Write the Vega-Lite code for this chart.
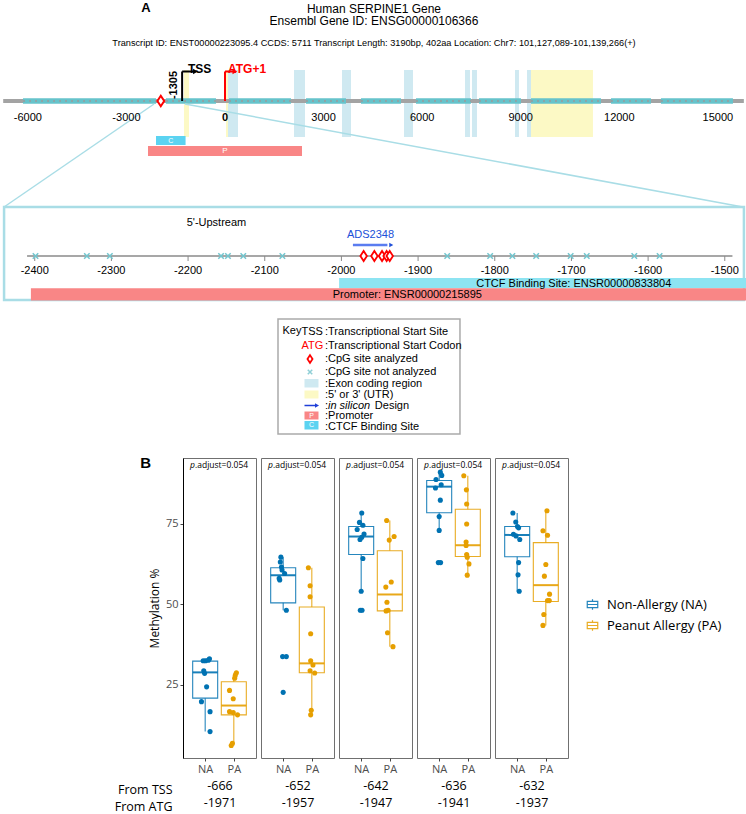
{
"$schema":"https://vega.github.io/schema/vega-lite/v6.json",
"padding":0,"spacing":17,"bounds":"flush","background":"white",
"config":{"view":{"stroke":"#707070"},"font":"Liberation Sans"},
"resolve":{"scale":{"color":"shared","fill":"shared","stroke":"shared"},"legend":{"color":"independent"}},
"datasets":{
"exons":[{"s":90,"e":395},{"s":2100,"e":2434},{"s":3560,"e":3834},{"s":5447,"e":5721},{"s":7303,"e":7455},{"s":7516,"e":7668},{"s":8825,"e":8946},{"s":9190,"e":9312}],
"utr":[{"s":-1248,"e":-1095},{"s":30,"e":91},{"s":9312,"e":11198}],
"cpgMain":[{"s":-6147,"e":-2100},{"s":-1795,"e":-274},{"s":122,"e":2008},{"s":2465,"e":3682},{"s":4138,"e":5356},{"s":5812,"e":7486},{"s":7729,"e":9007},{"s":9312,"e":11442},{"s":11746,"e":12963},{"s":13267,"e":15458}],
"tickMain":[{"v":-6000,"lab":"-6000"},{"v":-3000,"lab":"-3000"},{"v":0,"lab":"0"},{"v":3000,"lab":"3000"},{"v":6000,"lab":"6000"},{"v":9000,"lab":"9000"},{"v":12000,"lab":"12000"},{"v":15000,"lab":"15000"}],
"zoomCpg":[{"p":-2399},{"p":-2332},{"p":-2302},{"p":-2157},{"p":-2148},{"p":-2128},{"p":-2077},{"p":-1862},{"p":-1806},{"p":-1777},{"p":-1746},{"p":-1701},{"p":-1680},{"p":-1618},{"p":-1585}],
"zoomAn":[{"p":-1971},{"p":-1957},{"p":-1947},{"p":-1941},{"p":-1937}],
"zoomTicks":[{"v":-2400,"lab":"-2400"},{"v":-2300,"lab":"-2300"},{"v":-2200,"lab":"-2200"},{"v":-2100,"lab":"-2100"},{"v":-2000,"lab":"-2000"},{"v":-1900,"lab":"-1900"},{"v":-1800,"lab":"-1800"},{"v":-1700,"lab":"-1700"},{"v":-1600,"lab":"-1600"},{"v":-1500,"lab":"-1500"}],
"keyText":[{"t":":Transcriptional Start Site","r":33.1},{"t":":Transcriptional Start Codon","r":34.45},{"t":":CpG site analyzed","r":35.8},{"t":":CpG site not analyzed","r":37.1},{"t":":Exon coding region","r":38.25},{"t":":5' or 3' (UTR)","r":39.4},{"t":":","r":40.45},{"t":":Promoter","r":41.5},{"t":":CTCF Binding Site","r":42.55}],
"pts":[
{"site":"-666","grp":"NA","jx":0.93,"val":32.5},{"site":"-666","grp":"NA","jx":1.01,"val":32.5},{"site":"-666","grp":"NA","jx":1.11,"val":32.7},{"site":"-666","grp":"NA","jx":1.15,"val":33.1},{"site":"-666","grp":"NA","jx":0.95,"val":29.4},{"site":"-666","grp":"NA","jx":0.98,"val":28.6},{"site":"-666","grp":"NA","jx":1.05,"val":24.4},{"site":"-666","grp":"NA","jx":0.87,"val":19.8},{"site":"-666","grp":"NA","jx":1.17,"val":16.7},{"site":"-666","grp":"NA","jx":1.17,"val":10.5},
{"site":"-666","grp":"PA","jx":2.09,"val":28.8},{"site":"-666","grp":"PA","jx":2.05,"val":27.9},{"site":"-666","grp":"PA","jx":2.03,"val":27.1},{"site":"-666","grp":"PA","jx":1.85,"val":23.3},{"site":"-666","grp":"PA","jx":1.98,"val":20.7},{"site":"-666","grp":"PA","jx":1.85,"val":16.7},{"site":"-666","grp":"PA","jx":1.98,"val":16.4},{"site":"-666","grp":"PA","jx":2.13,"val":15.7},{"site":"-666","grp":"PA","jx":1.95,"val":6.9},{"site":"-666","grp":"PA","jx":1.91,"val":6.2},
{"site":"-652","grp":"NA","jx":0.92,"val":64.7},{"site":"-652","grp":"NA","jx":0.90,"val":63.2},{"site":"-652","grp":"NA","jx":0.94,"val":61.6},{"site":"-652","grp":"NA","jx":0.96,"val":60.7},{"site":"-652","grp":"NA","jx":1.05,"val":59.6},{"site":"-652","grp":"NA","jx":0.86,"val":58.1},{"site":"-652","grp":"NA","jx":0.88,"val":57.6},{"site":"-652","grp":"NA","jx":1.11,"val":48.2},{"site":"-652","grp":"NA","jx":0.98,"val":33.8},{"site":"-652","grp":"NA","jx":1.11,"val":33.8},{"site":"-652","grp":"NA","jx":1.0,"val":22.7},
{"site":"-652","grp":"PA","jx":1.88,"val":61.4},{"site":"-652","grp":"PA","jx":1.94,"val":55.8},{"site":"-652","grp":"PA","jx":1.94,"val":52.4},{"site":"-652","grp":"PA","jx":1.96,"val":40.9},{"site":"-652","grp":"PA","jx":1.96,"val":32.5},{"site":"-652","grp":"PA","jx":2.04,"val":31.2},{"site":"-652","grp":"PA","jx":1.94,"val":29.4},{"site":"-652","grp":"PA","jx":2.10,"val":28.7},{"site":"-652","grp":"PA","jx":1.98,"val":17.1},{"site":"-652","grp":"PA","jx":1.96,"val":15.7},
{"site":"-642","grp":"NA","jx":1.02,"val":78.4},{"site":"-642","grp":"NA","jx":0.94,"val":75.5},{"site":"-642","grp":"NA","jx":1.06,"val":74.6},{"site":"-642","grp":"NA","jx":0.86,"val":73.3},{"site":"-642","grp":"NA","jx":1.10,"val":71.9},{"site":"-642","grp":"NA","jx":1.02,"val":70.9},{"site":"-642","grp":"NA","jx":0.96,"val":70.2},{"site":"-642","grp":"NA","jx":1.06,"val":64.3},{"site":"-642","grp":"NA","jx":1.0,"val":54.1},{"site":"-642","grp":"NA","jx":0.97,"val":48.2},{"site":"-642","grp":"NA","jx":1.03,"val":48.2},
{"site":"-642","grp":"PA","jx":1.89,"val":76.1},{"site":"-642","grp":"PA","jx":2.15,"val":71.1},{"site":"-642","grp":"PA","jx":1.98,"val":70.0},{"site":"-642","grp":"PA","jx":2.05,"val":57.0},{"site":"-642","grp":"PA","jx":1.86,"val":55.4},{"site":"-642","grp":"PA","jx":1.90,"val":50.7},{"site":"-642","grp":"PA","jx":1.87,"val":48.0},{"site":"-642","grp":"PA","jx":1.94,"val":48.2},{"site":"-642","grp":"PA","jx":1.92,"val":41.2},{"site":"-642","grp":"PA","jx":2.11,"val":36.9},
{"site":"-636","grp":"NA","jx":1.04,"val":91.1},{"site":"-636","grp":"NA","jx":1.09,"val":90.1},{"site":"-636","grp":"NA","jx":0.89,"val":88.8},{"site":"-636","grp":"NA","jx":0.87,"val":86.2},{"site":"-636","grp":"NA","jx":1.07,"val":87.2},{"site":"-636","grp":"NA","jx":1.04,"val":82.4},{"site":"-636","grp":"NA","jx":1.0,"val":77.3},{"site":"-636","grp":"NA","jx":1.0,"val":73.0},{"site":"-636","grp":"NA","jx":0.97,"val":63.0},{"site":"-636","grp":"NA","jx":1.05,"val":63.0},
{"site":"-636","grp":"PA","jx":1.86,"val":90.0},{"site":"-636","grp":"PA","jx":1.95,"val":85.6},{"site":"-636","grp":"PA","jx":1.96,"val":81.2},{"site":"-636","grp":"PA","jx":1.96,"val":75.0},{"site":"-636","grp":"PA","jx":1.94,"val":69.4},{"site":"-636","grp":"PA","jx":1.94,"val":68.3},{"site":"-636","grp":"PA","jx":1.96,"val":65.5},{"site":"-636","grp":"PA","jx":1.98,"val":64.7},{"site":"-636","grp":"PA","jx":2.04,"val":62.6},{"site":"-636","grp":"PA","jx":1.98,"val":59.1},
{"site":"-632","grp":"NA","jx":0.85,"val":78.4},{"site":"-632","grp":"NA","jx":0.95,"val":75.6},{"site":"-632","grp":"NA","jx":1.01,"val":74.2},{"site":"-632","grp":"NA","jx":1.05,"val":73.8},{"site":"-632","grp":"NA","jx":0.87,"val":71.8},{"site":"-632","grp":"NA","jx":0.96,"val":71.3},{"site":"-632","grp":"NA","jx":1.09,"val":70.2},{"site":"-632","grp":"NA","jx":1.05,"val":63.0},{"site":"-632","grp":"NA","jx":1.03,"val":59.2},{"site":"-632","grp":"NA","jx":1.07,"val":54.1},
{"site":"-632","grp":"PA","jx":2.04,"val":79.1},{"site":"-632","grp":"PA","jx":1.90,"val":72.9},{"site":"-632","grp":"PA","jx":2.06,"val":71.5},{"site":"-632","grp":"PA","jx":2.0,"val":62.4},{"site":"-632","grp":"PA","jx":1.95,"val":58.8},{"site":"-632","grp":"PA","jx":2.13,"val":53.2},{"site":"-632","grp":"PA","jx":2.06,"val":51.2},{"site":"-632","grp":"PA","jx":2.12,"val":51.2},{"site":"-632","grp":"PA","jx":1.93,"val":46.9},{"site":"-632","grp":"PA","jx":1.90,"val":43.5}
],
"box":[
{"site":"-666","grp":"NA","gx":1,"q1":20.9,"med":28.9,"q3":32.4,"lo":10.5,"hi":33.1},
{"site":"-666","grp":"PA","gx":2,"q1":15.7,"med":18.6,"q3":26.0,"lo":6.2,"hi":28.8},
{"site":"-652","grp":"NA","gx":1,"q1":50.5,"med":59.1,"q3":61.4,"lo":48.2,"hi":64.7},
{"site":"-652","grp":"PA","gx":2,"q1":28.8,"med":31.7,"q3":49.2,"lo":15.7,"hi":61.4},
{"site":"-642","grp":"NA","gx":1,"q1":65.5,"med":71.1,"q3":74.2,"lo":54.1,"hi":78.4},
{"site":"-642","grp":"PA","gx":2,"q1":48.0,"med":53.1,"q3":66.7,"lo":36.9,"hi":76.1},
{"site":"-636","grp":"NA","gx":1,"q1":78.5,"med":86.6,"q3":88.5,"lo":73.0,"hi":91.1},
{"site":"-636","grp":"PA","gx":2,"q1":64.9,"med":68.4,"q3":79.6,"lo":59.1,"hi":90.0},
{"site":"-632","grp":"NA","gx":1,"q1":64.8,"med":71.6,"q3":74.2,"lo":54.1,"hi":78.4},
{"site":"-632","grp":"PA","gx":2,"q1":50.9,"med":56.0,"q3":69.2,"lo":43.5,"hi":79.1}
]
},
"vconcat":[
{
"width":746,"height":440,"view":{"stroke":"transparent"},
"resolve":{"scale":{"x":"independent"}},
"layer":[
{"layer":[
{"data":{"name":"exons"},"mark":{"type":"rect","fill":"#cfe9f1"},"encoding":{"x":{"field":"s","type":"quantitative","scale":{"domain":[-6817,15886],"nice":false,"zero":false},"axis":null},"x2":{"field":"e"},"y":{"datum":6.9,"type":"quantitative","scale":{"domain":[0,44],"reverse":true,"nice":false,"zero":false},"axis":null},"y2":{"datum":13.6}}},
{"data":{"name":"utr"},"mark":{"type":"rect","fill":"#fcf9c5"},"encoding":{"x":{"field":"s","type":"quantitative","axis":null},"x2":{"field":"e"},"y":{"datum":6.9,"type":"quantitative","axis":null},"y2":{"datum":13.6}}},
{"data":{"values":[{}]},"mark":{"type":"rule","stroke":"#a3a3a3","strokeWidth":4},"encoding":{"x":{"datum":-6750,"type":"quantitative","axis":null},"x2":{"datum":15790},"y":{"datum":10,"type":"quantitative","axis":null}}},
{"data":{"name":"cpgMain"},"mark":{"type":"rect","fill":"#66c3cb"},"encoding":{"x":{"field":"s","type":"quantitative","axis":null},"x2":{"field":"e"},"y":{"datum":9.72,"type":"quantitative","axis":null},"y2":{"datum":10.28}}},
{"data":{"name":"cpgMain"},"mark":{"type":"rule","stroke":"#9b9b9b","strokeWidth":1.5,"strokeDash":[2,4]},"encoding":{"x":{"field":"s","type":"quantitative","axis":null},"x2":{"field":"e"},"y":{"datum":10,"type":"quantitative","axis":null}}},
{"data":{"values":[{}]},"mark":{"type":"rule","stroke":"#a9dde6","strokeWidth":1.5},"encoding":{"x":{"datum":-2160,"type":"quantitative","axis":null},"x2":{"datum":-6725},"y":{"datum":10.3,"type":"quantitative","axis":null},"y2":{"datum":20.6}}},
{"data":{"values":[{}]},"mark":{"type":"rule","stroke":"#a9dde6","strokeWidth":1.5},"encoding":{"x":{"datum":-1217,"type":"quantitative","axis":null},"x2":{"datum":15763},"y":{"datum":10.3,"type":"quantitative","axis":null},"y2":{"datum":20.6}}},
{"data":{"values":[{}]},"mark":{"type":"point","shape":"M0,-1L0.65,0L0,1L-0.65,0Z","filled":true,"fill":"white","stroke":"#ff0000","strokeWidth":2,"size":110,"opacity":1},"encoding":{"x":{"datum":-1954,"type":"quantitative","axis":null},"y":{"datum":10,"type":"quantitative","axis":null}}},
{"data":{"values":[{}]},"mark":{"type":"rule","stroke":"black","strokeWidth":2},"encoding":{"x":{"datum":-1305,"type":"quantitative","axis":null},"y":{"datum":10,"type":"quantitative","axis":null},"y2":{"datum":7.05}}},
{"data":{"values":[{}]},"mark":{"type":"rule","stroke":"black","strokeWidth":2},"encoding":{"x":{"datum":-1305,"type":"quantitative","axis":null},"x2":{"datum":-900},"y":{"datum":7.05,"type":"quantitative","axis":null}}},
{"data":{"values":[{}]},"mark":{"type":"point","shape":"triangle-right","filled":true,"color":"black","size":30,"opacity":1},"encoding":{"x":{"datum":-900,"type":"quantitative","axis":null},"y":{"datum":7.05,"type":"quantitative","axis":null}}},
{"data":{"values":[{}]},"mark":{"type":"rule","stroke":"#ff0000","strokeWidth":2},"encoding":{"x":{"datum":0,"type":"quantitative","axis":null},"y":{"datum":10,"type":"quantitative","axis":null},"y2":{"datum":7.05}}},
{"data":{"values":[{}]},"mark":{"type":"rule","stroke":"#ff0000","strokeWidth":2},"encoding":{"x":{"datum":0,"type":"quantitative","axis":null},"x2":{"datum":300},"y":{"datum":7.05,"type":"quantitative","axis":null}}},
{"data":{"values":[{}]},"mark":{"type":"point","shape":"triangle-right","filled":true,"color":"#ff0000","size":30,"opacity":1},"encoding":{"x":{"datum":300,"type":"quantitative","axis":null},"y":{"datum":7.05,"type":"quantitative","axis":null}}},
{"data":{"values":[{}]},"mark":{"type":"text","text":"TSS","fontWeight":"bold","fontSize":12,"align":"left","baseline":"middle","color":"black"},"encoding":{"x":{"datum":-1126,"type":"quantitative","axis":null},"y":{"datum":6.75,"type":"quantitative","axis":null}}},
{"data":{"values":[{}]},"mark":{"type":"text","text":"ATG+1","fontWeight":"bold","fontSize":12,"align":"left","baseline":"middle","color":"#ff0000"},"encoding":{"x":{"datum":91,"type":"quantitative","axis":null},"y":{"datum":6.75,"type":"quantitative","axis":null}}},
{"data":{"values":[{}]},"mark":{"type":"text","text":"-1305","fontWeight":"bold","fontSize":11,"angle":270,"align":"center","baseline":"middle","color":"black"},"encoding":{"x":{"datum":-1560,"type":"quantitative","axis":null},"y":{"datum":8.4,"type":"quantitative","axis":null}}},
{"data":{"name":"tickMain"},"transform":[{"filter":"datum.v != 0"}],"mark":{"type":"text","fontSize":11,"align":"center","baseline":"middle","color":"black"},"encoding":{"x":{"field":"v","type":"quantitative","axis":null},"y":{"datum":11.7,"type":"quantitative","axis":null},"text":{"field":"lab"}}},
{"data":{"name":"tickMain"},"transform":[{"filter":"datum.v == 0"}],"mark":{"type":"text","fontSize":11,"fontWeight":"bold","align":"center","baseline":"middle","color":"black"},"encoding":{"x":{"field":"v","type":"quantitative","axis":null},"y":{"datum":11.7,"type":"quantitative","axis":null},"text":{"field":"lab"}}},
{"data":{"values":[{}]},"mark":{"type":"rect","fill":"#5bd3f1"},"encoding":{"x":{"datum":-2100,"type":"quantitative","axis":null},"x2":{"datum":-1200},"y":{"datum":13.5,"type":"quantitative","axis":null},"y2":{"datum":14.4}}},
{"data":{"values":[{}]},"mark":{"type":"text","text":"C","fontSize":7,"color":"white","align":"center","baseline":"middle"},"encoding":{"x":{"datum":-1650,"type":"quantitative","axis":null},"y":{"datum":13.95,"type":"quantitative","axis":null}}},
{"data":{"values":[{}]},"mark":{"type":"rect","fill":"#f98686"},"encoding":{"x":{"datum":-2343,"type":"quantitative","axis":null},"x2":{"datum":2343},"y":{"datum":14.5,"type":"quantitative","axis":null},"y2":{"datum":15.5}}},
{"data":{"values":[{}]},"mark":{"type":"text","text":"P","fontSize":8,"color":"white","align":"center","baseline":"middle"},"encoding":{"x":{"datum":0,"type":"quantitative","axis":null},"y":{"datum":15.0,"type":"quantitative","axis":null}}},
{"data":{"values":[{}]},"mark":{"type":"text","text":"A","fontSize":13,"fontWeight":"bold","align":"center","baseline":"middle","color":"black"},"encoding":{"x":{"datum":-2404,"type":"quantitative","axis":null},"y":{"datum":0.72,"type":"quantitative","axis":null}}},
{"data":{"values":[{}]},"mark":{"type":"text","text":"Human SERPINE1 Gene","fontSize":12,"align":"center","baseline":"middle","color":"black"},"encoding":{"x":{"datum":4534,"type":"quantitative","axis":null},"y":{"datum":0.75,"type":"quantitative","axis":null}}},
{"data":{"values":[{}]},"mark":{"type":"text","text":"Ensembl  Gene  ID: ENSG00000106366","fontSize":12,"align":"center","baseline":"middle","color":"black"},"encoding":{"x":{"datum":4534,"type":"quantitative","axis":null},"y":{"datum":2.0,"type":"quantitative","axis":null}}},
{"data":{"values":[{}]},"mark":{"type":"text","text":"Transcript ID: ENST00000223095.4   CCDS:  5711   Transcript Length:  3190bp,   402aa  Location:  Chr7:  101,127,089-101,139,266(+)","fontSize":9.2,"align":"center","baseline":"middle","color":"black"},"encoding":{"x":{"datum":4534,"type":"quantitative","axis":null},"y":{"datum":4.15,"type":"quantitative","axis":null}}},
{"data":{"values":[{}]},"mark":{"type":"rect","fill":"transparent","stroke":"#aaaaaa","strokeWidth":1.5},"encoding":{"x":{"datum":1613,"type":"quantitative","axis":null},"x2":{"datum":7151},"y":{"datum":31.8,"type":"quantitative","axis":null},"y2":{"datum":43.3}}},
{"data":{"values":[{}]},"mark":{"type":"text","text":"Key","fontSize":11,"align":"left","baseline":"middle","color":"black"},"encoding":{"x":{"datum":1750,"type":"quantitative","axis":null},"y":{"datum":33.0,"type":"quantitative","axis":null}}},
{"data":{"values":[{}]},"mark":{"type":"text","text":"TSS","fontSize":11,"align":"left","baseline":"middle","color":"black"},"encoding":{"x":{"datum":2328,"type":"quantitative","axis":null},"y":{"datum":33.1,"type":"quantitative","axis":null}}},
{"data":{"values":[{}]},"mark":{"type":"text","text":"ATG","fontSize":11,"align":"left","baseline":"middle","color":"#ff0000"},"encoding":{"x":{"datum":2328,"type":"quantitative","axis":null},"y":{"datum":34.45,"type":"quantitative","axis":null}}},
{"data":{"values":[{}]},"mark":{"type":"point","shape":"M0,-1L0.65,0L0,1L-0.65,0Z","filled":true,"fill":"white","stroke":"#ff0000","strokeWidth":1.8,"size":60,"opacity":1},"encoding":{"x":{"datum":2587,"type":"quantitative","axis":null},"y":{"datum":35.8,"type":"quantitative","axis":null}}},
{"data":{"values":[{}]},"mark":{"type":"point","shape":"M-1,-1L1,1M-1,1L1,-1","filled":false,"stroke":"#8fcfd6","strokeWidth":1.5,"size":20,"opacity":1},"encoding":{"x":{"datum":2587,"type":"quantitative","axis":null},"y":{"datum":37.1,"type":"quantitative","axis":null}}},
{"data":{"values":[{}]},"mark":{"type":"rect","fill":"#cfe9f1"},"encoding":{"x":{"datum":2419,"type":"quantitative","axis":null},"x2":{"datum":2845},"y":{"datum":37.8,"type":"quantitative","axis":null},"y2":{"datum":38.65}}},
{"data":{"values":[{}]},"mark":{"type":"rect","fill":"#fcf9c5"},"encoding":{"x":{"datum":2419,"type":"quantitative","axis":null},"x2":{"datum":2845},"y":{"datum":38.95,"type":"quantitative","axis":null},"y2":{"datum":39.75}}},
{"data":{"values":[{}]},"mark":{"type":"rule","stroke":"#1f3fd8","strokeWidth":1.5},"encoding":{"x":{"datum":2419,"type":"quantitative","axis":null},"x2":{"datum":2760},"y":{"datum":40.45,"type":"quantitative","axis":null}}},
{"data":{"values":[{}]},"mark":{"type":"point","shape":"triangle-right","filled":true,"color":"#1f3fd8","size":22,"opacity":1},"encoding":{"x":{"datum":2800,"type":"quantitative","axis":null},"y":{"datum":40.45,"type":"quantitative","axis":null}}},
{"data":{"values":[{}]},"mark":{"type":"rect","fill":"#f98686"},"encoding":{"x":{"datum":2419,"type":"quantitative","axis":null},"x2":{"datum":2845},"y":{"datum":41.05,"type":"quantitative","axis":null},"y2":{"datum":41.85}}},
{"data":{"values":[{}]},"mark":{"type":"text","text":"P","fontSize":7,"color":"white","align":"center","baseline":"middle"},"encoding":{"x":{"datum":2632,"type":"quantitative","axis":null},"y":{"datum":41.45,"type":"quantitative","axis":null}}},
{"data":{"values":[{}]},"mark":{"type":"rect","fill":"#5bd3f1"},"encoding":{"x":{"datum":2419,"type":"quantitative","axis":null},"x2":{"datum":2845},"y":{"datum":42.0,"type":"quantitative","axis":null},"y2":{"datum":42.85}}},
{"data":{"values":[{}]},"mark":{"type":"text","text":"C","fontSize":7,"color":"white","align":"center","baseline":"middle"},"encoding":{"x":{"datum":2632,"type":"quantitative","axis":null},"y":{"datum":42.42,"type":"quantitative","axis":null}}},
{"data":{"name":"keyText"},"mark":{"type":"text","fontSize":11,"align":"left","baseline":"middle","color":"black"},"encoding":{"x":{"datum":3043,"type":"quantitative","axis":null},"y":{"field":"r","type":"quantitative","axis":null},"text":{"field":"t"}}},
{"data":{"values":[{}]},"mark":{"type":"text","text":"in silicon","fontStyle":"italic","fontSize":11,"align":"left","baseline":"middle","color":"black"},"encoding":{"x":{"datum":3134,"type":"quantitative","axis":null},"y":{"datum":40.45,"type":"quantitative","axis":null}}},
{"data":{"values":[{}]},"mark":{"type":"text","text":"Design","fontSize":11,"align":"left","baseline":"middle","color":"black"},"encoding":{"x":{"datum":4560,"type":"quantitative","axis":null},"y":{"datum":40.45,"type":"quantitative","axis":null}}}
]},
{"layer":[
{"data":{"values":[{}]},"mark":{"type":"rect","fill":"transparent","stroke":"#a9dde6","strokeWidth":2.5},"encoding":{"x":{"datum":-2440,"type":"quantitative","scale":{"domain":[-2444,-1471],"nice":false,"zero":false},"axis":null},"x2":{"datum":-1475},"y":{"datum":20.6,"type":"quantitative","axis":null},"y2":{"datum":29.9}}},
{"data":{"values":[{}]},"mark":{"type":"rule","stroke":"#8a8a8a","strokeWidth":1.5},"encoding":{"x":{"datum":-2410,"type":"quantitative","axis":null},"x2":{"datum":-1490},"y":{"datum":25.5,"type":"quantitative","axis":null}}},
{"data":{"name":"zoomTicks"},"mark":{"type":"rule","stroke":"#8a8a8a","strokeWidth":1},"encoding":{"x":{"field":"v","type":"quantitative","axis":null},"y":{"datum":25.5,"type":"quantitative","axis":null},"y2":{"datum":26.0}}},
{"data":{"name":"zoomTicks"},"mark":{"type":"text","fontSize":11,"align":"center","baseline":"middle","color":"black"},"encoding":{"x":{"field":"v","type":"quantitative","axis":null},"y":{"datum":27.0,"type":"quantitative","axis":null},"text":{"field":"lab"}}},
{"data":{"name":"zoomCpg"},"mark":{"type":"point","shape":"M-1,-1L1,1M-1,1L1,-1","filled":false,"stroke":"#72c6cf","strokeWidth":1.5,"size":30,"opacity":1},"encoding":{"x":{"field":"p","type":"quantitative","axis":null},"y":{"datum":25.5,"type":"quantitative","axis":null}}},
{"data":{"name":"zoomAn"},"mark":{"type":"point","shape":"M0,-1L0.65,0L0,1L-0.65,0Z","filled":true,"fill":"white","stroke":"#ff0000","strokeWidth":1.8,"size":100,"opacity":1},"encoding":{"x":{"field":"p","type":"quantitative","axis":null},"y":{"datum":25.5,"type":"quantitative","axis":null}}},
{"data":{"values":[{}]},"mark":{"type":"text","text":"ADS2348","fontSize":11,"align":"center","baseline":"middle","color":"#2050d8"},"encoding":{"x":{"datum":-1962,"type":"quantitative","axis":null},"y":{"datum":23.4,"type":"quantitative","axis":null}}},
{"data":{"values":[{}]},"mark":{"type":"rule","stroke":"#5a7cf0","strokeWidth":2.5},"encoding":{"x":{"datum":-1985,"type":"quantitative","axis":null},"x2":{"datum":-1940},"y":{"datum":24.4,"type":"quantitative","axis":null}}},
{"data":{"values":[{}]},"mark":{"type":"point","shape":"triangle-right","filled":true,"color":"#2050d8","size":22,"opacity":1},"encoding":{"x":{"datum":-1935,"type":"quantitative","axis":null},"y":{"datum":24.4,"type":"quantitative","axis":null}}},
{"data":{"values":[{}]},"mark":{"type":"text","text":"5'-Upstream","fontSize":11,"align":"center","baseline":"middle","color":"black"},"encoding":{"x":{"datum":-2163,"type":"quantitative","axis":null},"y":{"datum":22.2,"type":"quantitative","axis":null}}},
{"data":{"values":[{}]},"mark":{"type":"rect","fill":"#8de4f2"},"encoding":{"x":{"datum":-2003,"type":"quantitative","axis":null},"x2":{"datum":-1471},"y":{"datum":27.7,"type":"quantitative","axis":null},"y2":{"datum":28.73}}},
{"data":{"values":[{}]},"mark":{"type":"rect","fill":"#f98686"},"encoding":{"x":{"datum":-2405,"type":"quantitative","axis":null},"x2":{"datum":-1471},"y":{"datum":28.73,"type":"quantitative","axis":null},"y2":{"datum":29.95}}},
{"data":{"values":[{}]},"mark":{"type":"text","text":"CTCF Binding Site: ENSR00000833804","fontSize":11,"align":"center","baseline":"middle","color":"black"},"encoding":{"x":{"datum":-1697,"type":"quantitative","axis":null},"y":{"datum":28.25,"type":"quantitative","axis":null}}},
{"data":{"values":[{}]},"mark":{"type":"text","text":"Promoter: ENSR00000215895","fontSize":11,"align":"center","baseline":"middle","color":"black"},"encoding":{"x":{"datum":-1914,"type":"quantitative","axis":null},"y":{"datum":29.35,"type":"quantitative","axis":null}}}
]}
]
},
{
"spacing":11,"bounds":"flush",
"resolve":{"scale":{"color":"shared","fill":"shared","stroke":"shared"},"legend":{"color":"independent"}},
"hconcat":[
{"width":171,"height":300,"view":{"stroke":"transparent"},"data":{"values":[{}]},"mark":{"type":"point","opacity":0},
 "title":{"text":"B","anchor":"end","orient":"top","offset":-4,"baseline":"top","dx":-21,"dy":9,"fontSize":15,"fontWeight":"bold","font":"Liberation Sans","color":"black"},
 "encoding":{"x":{"datum":0.5,"type":"quantitative","scale":{"domain":[0,1]},"axis":{"title":["From TSS","From ATG"],"titleAnchor":"end","labels":false,"ticks":false,"domain":false,"grid":false,"titleFont":"Open Sans","titleFontSize":12.5,"titleFontWeight":"normal","titleColor":"black","titleLineHeight":17,"titlePadding":25}}}},
{"spacing":5,"bounds":"flush",
"resolve":{"scale":{"color":"shared","fill":"shared","stroke":"shared"},"legend":{"color":"shared"}},
"hconcat":[
{"width":73,"height":300,"resolve":{"axis":{"x":"independent","y":"independent"}},"layer":[
{"data":{"name":"box"},"transform":[{"filter":"datum.site == '-666'"}],"mark":{"type":"rule","strokeWidth":1.1,"strokeOpacity":0.85},"encoding":{"x":{"field":"gx","type":"quantitative","scale":{"domain":[0.4,2.6],"nice":false,"zero":false},"axis":{"values":[1,2],"labelExpr":"datum.value == 1 ? 'NA' : 'PA'","grid":false,"domain":false,"tickSize":3,"tickColor":"#444444","labelFont":"Open Sans","labelFontSize":11,"labelColor":"#4d4d4d","labelPadding":2,"title":["-666","-1971"],"titleFont":"Open Sans","titleFontSize":12.5,"titleFontWeight":"normal","titleColor":"black","titleLineHeight":17,"titlePadding":5}},"y":{"field":"lo","type":"quantitative","scale":{"domain":[2.3,95.5],"nice":false,"zero":false},"axis":{"values":[25,50,75],"grid":false,"domainColor":"black","tickSize":3,"tickColor":"#444444","labelFont":"Open Sans","labelFontSize":11,"labelColor":"#4d4d4d","labelPadding":2,"title":"Methylation %","titleFont":"Open Sans","titleFontSize":12,"titleFontWeight":"normal","titleColor":"black","titlePadding":4}},"y2":{"field":"q1"},"stroke":{"field":"grp","type":"nominal","scale":{"domain":["NA","PA"],"range":["#0072B2","#E69F00"]},"legend":null}}},
{"data":{"name":"box"},"transform":[{"filter":"datum.site == '-666'"}],"mark":{"type":"rule","strokeWidth":1.1,"strokeOpacity":0.85},"encoding":{"x":{"field":"gx","type":"quantitative","axis":null},"y":{"field":"q3","type":"quantitative","axis":null},"y2":{"field":"hi"},"stroke":{"field":"grp","type":"nominal","legend":null}}},
{"data":{"name":"box"},"transform":[{"filter":"datum.site == '-666'"}],"mark":{"type":"bar","size":25,"filled":false,"strokeWidth":1.1,"opacity":0.85},"encoding":{"x":{"field":"gx","type":"quantitative","axis":null},"y":{"field":"q1","type":"quantitative","axis":null},"y2":{"field":"q3"},"color":{"field":"grp","type":"nominal","scale":{"domain":["NA","PA"],"range":["#0072B2","#E69F00"]},"legend":{"orient":"none","legendX":403,"legendY":140,"title":null,"labelExpr":"datum.value == 'NA' ? 'Non-Allergy (NA)' : 'Peanut Allergy (PA)'","labelFont":"Open Sans","labelFontSize":13,"labelColor":"black","symbolType":"M-1,-0.6H1V0.6H-1Z M-1,0H1 M0,-1V-0.6 M0,0.6V1","symbolSize":110,"symbolStrokeWidth":1.2,"rowPadding":4,"labelOffset":8}}}},
{"data":{"name":"box"},"transform":[{"filter":"datum.site == '-666'"}],"mark":{"type":"tick","orient":"horizontal","size":25,"thickness":2,"opacity":0.9},"encoding":{"x":{"field":"gx","type":"quantitative","axis":null},"y":{"field":"med","type":"quantitative","axis":null},"fill":{"field":"grp","type":"nominal","scale":{"domain":["NA","PA"],"range":["#0072B2","#E69F00"]},"legend":null}}},
{"data":{"name":"pts"},"transform":[{"filter":"datum.site == '-666'"}],"mark":{"type":"circle","size":26,"opacity":1},"encoding":{"x":{"field":"jx","type":"quantitative","axis":null},"y":{"field":"val","type":"quantitative","axis":null},"fill":{"field":"grp","type":"nominal","legend":null}}},
{"data":{"values":[{}]},"mark":{"type":"text","text":"p","fontStyle":"italic","font":"Open Sans","fontSize":8.5,"align":"right","baseline":"middle","dx":-24.5,"color":"black"},"encoding":{"x":{"datum":1.5,"type":"quantitative","axis":null},"y":{"datum":93.2,"type":"quantitative","axis":null}}},
{"data":{"values":[{}]},"mark":{"type":"text","text":".adjust=0.054","font":"Open Sans","fontSize":8.5,"align":"left","baseline":"middle","dx":-24.5,"color":"black"},"encoding":{"x":{"datum":1.5,"type":"quantitative","axis":null},"y":{"datum":93.2,"type":"quantitative","axis":null}}}
]},
{"width":73,"height":300,"resolve":{"axis":{"x":"independent","y":"independent"}},"layer":[
{"data":{"name":"box"},"transform":[{"filter":"datum.site == '-652'"}],"mark":{"type":"rule","strokeWidth":1.1,"strokeOpacity":0.85},"encoding":{"x":{"field":"gx","type":"quantitative","scale":{"domain":[0.4,2.6],"nice":false,"zero":false},"axis":{"values":[1,2],"labelExpr":"datum.value == 1 ? 'NA' : 'PA'","grid":false,"domain":false,"tickSize":3,"tickColor":"#444444","labelFont":"Open Sans","labelFontSize":11,"labelColor":"#4d4d4d","labelPadding":2,"title":["-652","-1957"],"titleFont":"Open Sans","titleFontSize":12.5,"titleFontWeight":"normal","titleColor":"black","titleLineHeight":17,"titlePadding":5}},"y":{"field":"lo","type":"quantitative","scale":{"domain":[2.3,95.5],"nice":false,"zero":false},"axis":null},"y2":{"field":"q1"},"stroke":{"field":"grp","type":"nominal","scale":{"domain":["NA","PA"],"range":["#0072B2","#E69F00"]},"legend":null}}},
{"data":{"name":"box"},"transform":[{"filter":"datum.site == '-652'"}],"mark":{"type":"rule","strokeWidth":1.1,"strokeOpacity":0.85},"encoding":{"x":{"field":"gx","type":"quantitative","axis":null},"y":{"field":"q3","type":"quantitative","axis":null},"y2":{"field":"hi"},"stroke":{"field":"grp","type":"nominal","legend":null}}},
{"data":{"name":"box"},"transform":[{"filter":"datum.site == '-652'"}],"mark":{"type":"bar","size":25,"filled":false,"strokeWidth":1.1,"opacity":0.85},"encoding":{"x":{"field":"gx","type":"quantitative","axis":null},"y":{"field":"q1","type":"quantitative","axis":null},"y2":{"field":"q3"},"color":{"field":"grp","type":"nominal","scale":{"domain":["NA","PA"],"range":["#0072B2","#E69F00"]}}}},
{"data":{"name":"box"},"transform":[{"filter":"datum.site == '-652'"}],"mark":{"type":"tick","orient":"horizontal","size":25,"thickness":2,"opacity":0.9},"encoding":{"x":{"field":"gx","type":"quantitative","axis":null},"y":{"field":"med","type":"quantitative","axis":null},"fill":{"field":"grp","type":"nominal","scale":{"domain":["NA","PA"],"range":["#0072B2","#E69F00"]},"legend":null}}},
{"data":{"name":"pts"},"transform":[{"filter":"datum.site == '-652'"}],"mark":{"type":"circle","size":26,"opacity":1},"encoding":{"x":{"field":"jx","type":"quantitative","axis":null},"y":{"field":"val","type":"quantitative","axis":null},"fill":{"field":"grp","type":"nominal","legend":null}}},
{"data":{"values":[{}]},"mark":{"type":"text","text":"p","fontStyle":"italic","font":"Open Sans","fontSize":8.5,"align":"right","baseline":"middle","dx":-24.5,"color":"black"},"encoding":{"x":{"datum":1.5,"type":"quantitative","axis":null},"y":{"datum":93.2,"type":"quantitative","axis":null}}},
{"data":{"values":[{}]},"mark":{"type":"text","text":".adjust=0.054","font":"Open Sans","fontSize":8.5,"align":"left","baseline":"middle","dx":-24.5,"color":"black"},"encoding":{"x":{"datum":1.5,"type":"quantitative","axis":null},"y":{"datum":93.2,"type":"quantitative","axis":null}}}
]},
{"width":73,"height":300,"resolve":{"axis":{"x":"independent","y":"independent"}},"layer":[
{"data":{"name":"box"},"transform":[{"filter":"datum.site == '-642'"}],"mark":{"type":"rule","strokeWidth":1.1,"strokeOpacity":0.85},"encoding":{"x":{"field":"gx","type":"quantitative","scale":{"domain":[0.4,2.6],"nice":false,"zero":false},"axis":{"values":[1,2],"labelExpr":"datum.value == 1 ? 'NA' : 'PA'","grid":false,"domain":false,"tickSize":3,"tickColor":"#444444","labelFont":"Open Sans","labelFontSize":11,"labelColor":"#4d4d4d","labelPadding":2,"title":["-642","-1947"],"titleFont":"Open Sans","titleFontSize":12.5,"titleFontWeight":"normal","titleColor":"black","titleLineHeight":17,"titlePadding":5}},"y":{"field":"lo","type":"quantitative","scale":{"domain":[2.3,95.5],"nice":false,"zero":false},"axis":null},"y2":{"field":"q1"},"stroke":{"field":"grp","type":"nominal","scale":{"domain":["NA","PA"],"range":["#0072B2","#E69F00"]},"legend":null}}},
{"data":{"name":"box"},"transform":[{"filter":"datum.site == '-642'"}],"mark":{"type":"rule","strokeWidth":1.1,"strokeOpacity":0.85},"encoding":{"x":{"field":"gx","type":"quantitative","axis":null},"y":{"field":"q3","type":"quantitative","axis":null},"y2":{"field":"hi"},"stroke":{"field":"grp","type":"nominal","legend":null}}},
{"data":{"name":"box"},"transform":[{"filter":"datum.site == '-642'"}],"mark":{"type":"bar","size":25,"filled":false,"strokeWidth":1.1,"opacity":0.85},"encoding":{"x":{"field":"gx","type":"quantitative","axis":null},"y":{"field":"q1","type":"quantitative","axis":null},"y2":{"field":"q3"},"color":{"field":"grp","type":"nominal","scale":{"domain":["NA","PA"],"range":["#0072B2","#E69F00"]}}}},
{"data":{"name":"box"},"transform":[{"filter":"datum.site == '-642'"}],"mark":{"type":"tick","orient":"horizontal","size":25,"thickness":2,"opacity":0.9},"encoding":{"x":{"field":"gx","type":"quantitative","axis":null},"y":{"field":"med","type":"quantitative","axis":null},"fill":{"field":"grp","type":"nominal","scale":{"domain":["NA","PA"],"range":["#0072B2","#E69F00"]},"legend":null}}},
{"data":{"name":"pts"},"transform":[{"filter":"datum.site == '-642'"}],"mark":{"type":"circle","size":26,"opacity":1},"encoding":{"x":{"field":"jx","type":"quantitative","axis":null},"y":{"field":"val","type":"quantitative","axis":null},"fill":{"field":"grp","type":"nominal","legend":null}}},
{"data":{"values":[{}]},"mark":{"type":"text","text":"p","fontStyle":"italic","font":"Open Sans","fontSize":8.5,"align":"right","baseline":"middle","dx":-24.5,"color":"black"},"encoding":{"x":{"datum":1.5,"type":"quantitative","axis":null},"y":{"datum":93.2,"type":"quantitative","axis":null}}},
{"data":{"values":[{}]},"mark":{"type":"text","text":".adjust=0.054","font":"Open Sans","fontSize":8.5,"align":"left","baseline":"middle","dx":-24.5,"color":"black"},"encoding":{"x":{"datum":1.5,"type":"quantitative","axis":null},"y":{"datum":93.2,"type":"quantitative","axis":null}}}
]},
{"width":73,"height":300,"resolve":{"axis":{"x":"independent","y":"independent"}},"layer":[
{"data":{"name":"box"},"transform":[{"filter":"datum.site == '-636'"}],"mark":{"type":"rule","strokeWidth":1.1,"strokeOpacity":0.85},"encoding":{"x":{"field":"gx","type":"quantitative","scale":{"domain":[0.4,2.6],"nice":false,"zero":false},"axis":{"values":[1,2],"labelExpr":"datum.value == 1 ? 'NA' : 'PA'","grid":false,"domain":false,"tickSize":3,"tickColor":"#444444","labelFont":"Open Sans","labelFontSize":11,"labelColor":"#4d4d4d","labelPadding":2,"title":["-636","-1941"],"titleFont":"Open Sans","titleFontSize":12.5,"titleFontWeight":"normal","titleColor":"black","titleLineHeight":17,"titlePadding":5}},"y":{"field":"lo","type":"quantitative","scale":{"domain":[2.3,95.5],"nice":false,"zero":false},"axis":null},"y2":{"field":"q1"},"stroke":{"field":"grp","type":"nominal","scale":{"domain":["NA","PA"],"range":["#0072B2","#E69F00"]},"legend":null}}},
{"data":{"name":"box"},"transform":[{"filter":"datum.site == '-636'"}],"mark":{"type":"rule","strokeWidth":1.1,"strokeOpacity":0.85},"encoding":{"x":{"field":"gx","type":"quantitative","axis":null},"y":{"field":"q3","type":"quantitative","axis":null},"y2":{"field":"hi"},"stroke":{"field":"grp","type":"nominal","legend":null}}},
{"data":{"name":"box"},"transform":[{"filter":"datum.site == '-636'"}],"mark":{"type":"bar","size":25,"filled":false,"strokeWidth":1.1,"opacity":0.85},"encoding":{"x":{"field":"gx","type":"quantitative","axis":null},"y":{"field":"q1","type":"quantitative","axis":null},"y2":{"field":"q3"},"color":{"field":"grp","type":"nominal","scale":{"domain":["NA","PA"],"range":["#0072B2","#E69F00"]}}}},
{"data":{"name":"box"},"transform":[{"filter":"datum.site == '-636'"}],"mark":{"type":"tick","orient":"horizontal","size":25,"thickness":2,"opacity":0.9},"encoding":{"x":{"field":"gx","type":"quantitative","axis":null},"y":{"field":"med","type":"quantitative","axis":null},"fill":{"field":"grp","type":"nominal","scale":{"domain":["NA","PA"],"range":["#0072B2","#E69F00"]},"legend":null}}},
{"data":{"name":"pts"},"transform":[{"filter":"datum.site == '-636'"}],"mark":{"type":"circle","size":26,"opacity":1},"encoding":{"x":{"field":"jx","type":"quantitative","axis":null},"y":{"field":"val","type":"quantitative","axis":null},"fill":{"field":"grp","type":"nominal","legend":null}}},
{"data":{"values":[{}]},"mark":{"type":"text","text":"p","fontStyle":"italic","font":"Open Sans","fontSize":8.5,"align":"right","baseline":"middle","dx":-24.5,"color":"black"},"encoding":{"x":{"datum":1.5,"type":"quantitative","axis":null},"y":{"datum":93.2,"type":"quantitative","axis":null}}},
{"data":{"values":[{}]},"mark":{"type":"text","text":".adjust=0.054","font":"Open Sans","fontSize":8.5,"align":"left","baseline":"middle","dx":-24.5,"color":"black"},"encoding":{"x":{"datum":1.5,"type":"quantitative","axis":null},"y":{"datum":93.2,"type":"quantitative","axis":null}}}
]},
{"width":73,"height":300,"resolve":{"axis":{"x":"independent","y":"independent"}},"layer":[
{"data":{"name":"box"},"transform":[{"filter":"datum.site == '-632'"}],"mark":{"type":"rule","strokeWidth":1.1,"strokeOpacity":0.85},"encoding":{"x":{"field":"gx","type":"quantitative","scale":{"domain":[0.4,2.6],"nice":false,"zero":false},"axis":{"values":[1,2],"labelExpr":"datum.value == 1 ? 'NA' : 'PA'","grid":false,"domain":false,"tickSize":3,"tickColor":"#444444","labelFont":"Open Sans","labelFontSize":11,"labelColor":"#4d4d4d","labelPadding":2,"title":["-632","-1937"],"titleFont":"Open Sans","titleFontSize":12.5,"titleFontWeight":"normal","titleColor":"black","titleLineHeight":17,"titlePadding":5}},"y":{"field":"lo","type":"quantitative","scale":{"domain":[2.3,95.5],"nice":false,"zero":false},"axis":null},"y2":{"field":"q1"},"stroke":{"field":"grp","type":"nominal","scale":{"domain":["NA","PA"],"range":["#0072B2","#E69F00"]},"legend":null}}},
{"data":{"name":"box"},"transform":[{"filter":"datum.site == '-632'"}],"mark":{"type":"rule","strokeWidth":1.1,"strokeOpacity":0.85},"encoding":{"x":{"field":"gx","type":"quantitative","axis":null},"y":{"field":"q3","type":"quantitative","axis":null},"y2":{"field":"hi"},"stroke":{"field":"grp","type":"nominal","legend":null}}},
{"data":{"name":"box"},"transform":[{"filter":"datum.site == '-632'"}],"mark":{"type":"bar","size":25,"filled":false,"strokeWidth":1.1,"opacity":0.85},"encoding":{"x":{"field":"gx","type":"quantitative","axis":null},"y":{"field":"q1","type":"quantitative","axis":null},"y2":{"field":"q3"},"color":{"field":"grp","type":"nominal","scale":{"domain":["NA","PA"],"range":["#0072B2","#E69F00"]}}}},
{"data":{"name":"box"},"transform":[{"filter":"datum.site == '-632'"}],"mark":{"type":"tick","orient":"horizontal","size":25,"thickness":2,"opacity":0.9},"encoding":{"x":{"field":"gx","type":"quantitative","axis":null},"y":{"field":"med","type":"quantitative","axis":null},"fill":{"field":"grp","type":"nominal","scale":{"domain":["NA","PA"],"range":["#0072B2","#E69F00"]},"legend":null}}},
{"data":{"name":"pts"},"transform":[{"filter":"datum.site == '-632'"}],"mark":{"type":"circle","size":26,"opacity":1},"encoding":{"x":{"field":"jx","type":"quantitative","axis":null},"y":{"field":"val","type":"quantitative","axis":null},"fill":{"field":"grp","type":"nominal","legend":null}}},
{"data":{"values":[{}]},"mark":{"type":"text","text":"p","fontStyle":"italic","font":"Open Sans","fontSize":8.5,"align":"right","baseline":"middle","dx":-24.5,"color":"black"},"encoding":{"x":{"datum":1.5,"type":"quantitative","axis":null},"y":{"datum":93.2,"type":"quantitative","axis":null}}},
{"data":{"values":[{}]},"mark":{"type":"text","text":".adjust=0.054","font":"Open Sans","fontSize":8.5,"align":"left","baseline":"middle","dx":-24.5,"color":"black"},"encoding":{"x":{"datum":1.5,"type":"quantitative","axis":null},"y":{"datum":93.2,"type":"quantitative","axis":null}}}
]}
]}
]
}
]
}
